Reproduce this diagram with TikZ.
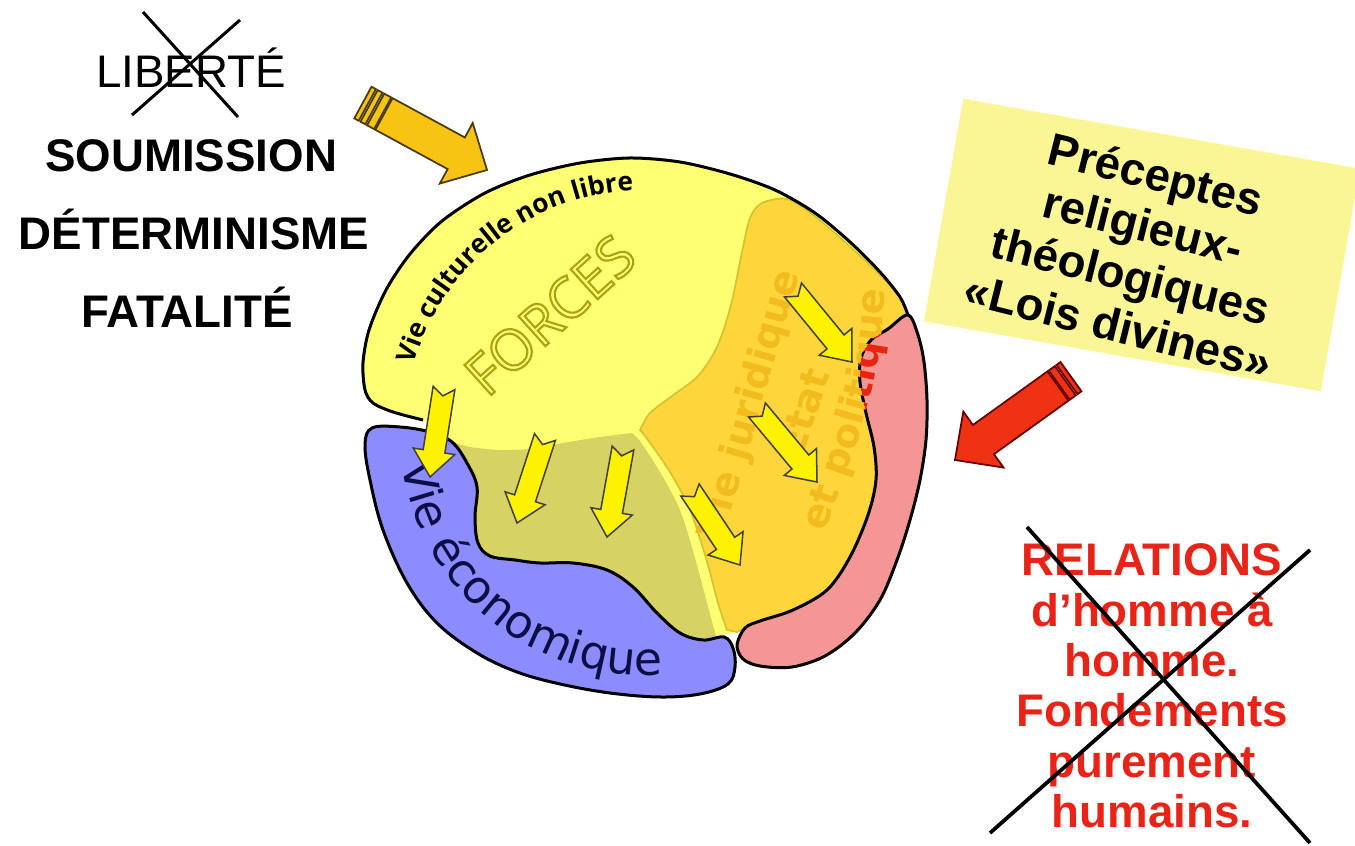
\documentclass[tikz,border=0pt]{standalone}
\usepackage{fontspec}
\setmainfont{Liberation Sans}
\newfontfamily\dejavu{DejaVu Sans}
\newfontfamily\opensans{Open Sans}
\usetikzlibrary{calc,decorations.text}
\definecolor{culture}{RGB}{255,255,115}
\definecolor{juri}{RGB}{255,213,60}
\definecolor{juriline}{RGB}{214,196,45}
\definecolor{juritext}{RGB}{242,188,30}
\definecolor{olivefill}{RGB}{214,210,100}
\definecolor{econ}{RGB}{140,140,255}
\definecolor{navy}{RGB}{14,14,70}
\definecolor{rel}{RGB}{245,150,150}
\definecolor{gold}{RGB}{248,196,20}
\definecolor{redarrow}{RGB}{240,50,20}
\definecolor{txtred}{RGB}{232,36,24}
\definecolor{boxyellow}{RGB}{250,246,150}
\definecolor{forcesline}{RGB}{172,162,18}
\tikzset{
    lefttxt/.style={anchor=base,font=\bfseries\fontsize{26}{30}\selectfont},
    relatxt/.style={align=center,text=txtred,font=\bfseries\fontsize{26}{28.7}\selectfont},
    boxtxt/.style={align=center,font=\bfseries\fontsize{26}{29.6}\selectfont},
    crossline/.style={line width=0.75mm},
    outline/.style={line width=0.6mm,line join=round},
    forces/.style={rotate=42,font=\opensans\fontsize{32}{32}\selectfont},
    juritxt/.style={text=juritext,font=\dejavu\bfseries\fontsize{22}{22}\selectfont},
    smallarrow/.style={fill=yellow,draw=black!75,line width=0.3mm},
    goldarrow/.style={fill=gold,draw=black!70!gold,line width=0.35mm},
    redarr/.style={fill=redarrow,draw=black!60!red,line width=0.35mm}
}
% hollow letters: stroke only
\newcommand{\hollow}[1]{\special{pdf:literal direct 1 Tr 1.2 w}#1\special{pdf:literal direct 0 Tr}}
% notched yellow arrow: tail, tip
\newcommand{\notcharrow}[2]{%
    \coordinate (hb) at ($(#2)!5.2mm!(#1)$);
    \draw[smallarrow] ($(#1)!2.2mm!90:(#2)$) -- ($(hb)!2.2mm!90:(#2)$)
        -- ($(hb)!4.2mm!90:(#2)$) -- (#2) -- ($(hb)!4.2mm!-90:(#2)$)
        -- ($(hb)!2.2mm!-90:(#2)$) -- ($(#1)!2.2mm!-90:(#2)$)
        -- ($(#1)!1.6mm!(#2)$) -- cycle;
}
% big arrow with bands behind the tail: tail, tip, style, bands
\newcommand{\bigarrow}[4]{%
    \coordinate (hb) at ($(#2)!7mm!(#1)$);
    \draw[#3] ($(#1)!3.6mm!90:(#2)$) -- ($(hb)!3.6mm!90:(#2)$)
        -- ($(hb)!6.9mm!90:(#2)$) -- (#2) -- ($(hb)!6.9mm!-90:(#2)$)
        -- ($(hb)!3.6mm!-90:(#2)$) -- ($(#1)!3.6mm!-90:(#2)$) -- cycle;
    \foreach \p/\q in {#4}{
        \coordinate (s1) at ($(#1)!-\p!(#2)$);
        \coordinate (s2) at ($(#1)!-\q!(#2)$);
        \draw[#3] ($(s1)!3.6mm!90:(#2)$) -- ($(s2)!3.6mm!90:(#2)$)
            -- ($(s2)!3.6mm!-90:(#2)$) -- ($(s1)!3.6mm!-90:(#2)$) -- cycle;
    }
}
\newcommand{\pinkpath}{plot[smooth cycle,tension=0.55] coordinates {(908,315) (918,335) (924,362) (927,400) (926,440) (920,480) (910,520) (897,560) (880,600) (855,633) (825,656) (792,667) (760,666) (743,659) (737,645) (745,628) (760,621) (793,610) (827,590) (850,557) (868,515) (876,480) (874,447) (866,413) (860,382) (861,358) (871,340) (888,329)}}
\newcommand{\toparc}{(423,420) (393,412) (373,403) (365,390) (363,363) (369,330) (386,290) (410,254) (442,221) (485,193) (530,175) (580,163) (630,158) (680,162) (730,174) (775,190) (815,213) (850,242) (880,272) (900,297) (908,315)}

\begin{document}
\begin{tikzpicture}[x=0.2mm,y=-0.2mm]
    \useasboundingbox (0,0) rectangle (1355,846);
    \coordinate (cc) at (645,430);

    % the four regions
    \fill[culture] plot[smooth] coordinates {\toparc} -- (880,600) -- (737,632)
        -- (716,636) -- (640,480) -- (480,480) -- (450,441) -- cycle;
    \filldraw[fill=juri,draw=juriline,line width=0.35mm]
        plot[smooth] coordinates {(640,430) (650,413) (672,396) (698,376) (717,347) (731,305) (742,252) (750,218) (762,203) (787,199) (812,214) (845,242) (877,272) (899,296) (907,314)}
        -- plot[smooth] coordinates {(888,329) (871,340) (861,358) (860,382) (866,413) (874,447) (876,480) (868,515) (850,557) (827,590) (793,610) (760,621) (737,632)}
        -- plot[smooth] coordinates {(727,630) (718,603) (706,558) (690,510) (670,472) (648,440) (640,430)} -- cycle;
    \fill[olivefill]
        plot[smooth] coordinates {(450,441) (470,447) (500,450) (530,449) (563,443) (600,437) (632,433)}
        -- plot[smooth] coordinates {(640,441) (660,472) (680,510) (695,558) (707,603) (716,636)}
        -- plot[smooth] coordinates {(703,640) (680,633) (657,613) (633,587) (607,570) (573,563) (540,563) (515,560) (490,556) (478,543) (475,517) (477,487) (467,463)} -- cycle;
    \filldraw[fill=econ,outline] plot[smooth cycle,tension=0.6] coordinates {(372,428) (400,427) (430,432) (452,442) (467,463) (477,487) (475,517) (478,543) (490,556) (515,560) (540,563) (573,563) (607,570) (633,587) (657,613) (680,633) (703,640) (724,637) (733,648) (735,667) (728,684) (700,694) (660,697) (610,693) (560,684) (517,672) (477,653) (437,623) (407,583) (383,530) (370,480) (365,445)};
    \filldraw[fill=rel,outline] \pinkpath;
    \draw[outline] plot[smooth] coordinates {\toparc};

    % texts in the regions
    \path[decorate,decoration={text along path,text align=center,
        text={|\opensans\bfseries\fontsize{15}{15}\selectfont|Vie culturelle non libre}}]
        ($(cc)+(-166:240)$) arc[start angle=-166,end angle=-91,radius=240];
    \path[decorate,decoration={text along path,text align=center,
        text={|\dejavu\fontsize{26}{26}\selectfont\color{navy}|Vie économique}}]
        ($(cc)+(174:245)$) arc[start angle=174,end angle=84,radius=245];
    \node[forces,text=forcesline] (forces) at (550,315) {\hollow{FORCES}};
    \node[juritxt,rotate=74] (juridique) at (751,405) {Vie juridique};
    \node[juritxt,rotate=72] (etat) at (803,412) {Etat};
    \coordinate (p1) at (824,534);  \coordinate (p2) at (885,288);
    \path[decorate,decoration={text along path,text align=center,
        text={|\dejavu\bfseries\fontsize{22}{22}\selectfont\color{juritext}|et politique}}]
        (p1) .. controls (858,445) and (882,380) .. (p2);
    \begin{scope}
        \clip \pinkpath;
        \path[decorate,decoration={text along path,text align=center,
            text={|\dejavu\bfseries\fontsize{22}{22}\selectfont\color{txtred}|et politique}}]
            (p1) .. controls (858,445) and (882,380) .. (p2);
    \end{scope}

    % forces arrows
    \coordinate (aT) at (444,388);  \coordinate (aH) at (430,477);
    \coordinate (bT) at (545,437);  \coordinate (bH) at (517,523);
    \coordinate (cT) at (623,448);  \coordinate (cH) at (607,537);
    \coordinate (dT) at (690,490);  \coordinate (dH) at (740,565);
    \coordinate (eT) at (793,290);  \coordinate (eH) at (852,362);
    \coordinate (fT) at (757,410);  \coordinate (fH) at (817,482);
    \foreach \n in {a,b,c,d,e,f}{
        \notcharrow{\n T}{\n H}
    }

    % left side
    \node[lefttxt,font=\fontsize{26}{30}\selectfont] (liberte) at (191,88) {LIBERTÉ};
    \node[lefttxt] (soumission) at (191,172) {SOUMISSION};
    \node[lefttxt] (determinisme) at (194,250) {DÉTERMINISME};
    \node[lefttxt] (fatalite) at (187,328) {FATALITÉ};
    \coordinate (l1) at (143,12);  \coordinate (l2) at (238,117);
    \coordinate (l3) at (240,20);  \coordinate (l4) at (132,115);
    \draw[crossline,line width=0.6mm] (l1) -- (l2) (l3) -- (l4);
    \coordinate (gT) at (384,114);  \coordinate (gH) at (487,170);
    \bigarrow{gT}{gH}{goldarrow}{0.3mm/1.9mm,2.3mm/3.4mm,3.8mm/4.8mm}

    % right side
    \node[fill=boxyellow,rotate=-10,minimum width=80.6mm,minimum height=45.2mm] (loisbox) at (1142,245) {};
    \node[boxtxt,rotate=-14] (preceptes) at (1137,250) {Préceptes\\religieux-\\théologiques\\«Lois divines»};
    \coordinate (rT) at (1058,386);  \coordinate (rH) at (955,460);
    \bigarrow{rT}{rH}{redarr}{0.3mm/1.8mm,2.2mm/3.2mm}
    \node[relatxt] (relations) at (1152,686) {RELATIONS\\d’homme à\\homme.\\Fondements\\purement\\humains.};
    \coordinate (r1) at (1027,527);  \coordinate (r2) at (1310,843);
    \coordinate (r3) at (1310,550);  \coordinate (r4) at (990,833);
    \draw[crossline] (r1) -- (r2) (r3) -- (r4);
\end{tikzpicture}
\end{document}
